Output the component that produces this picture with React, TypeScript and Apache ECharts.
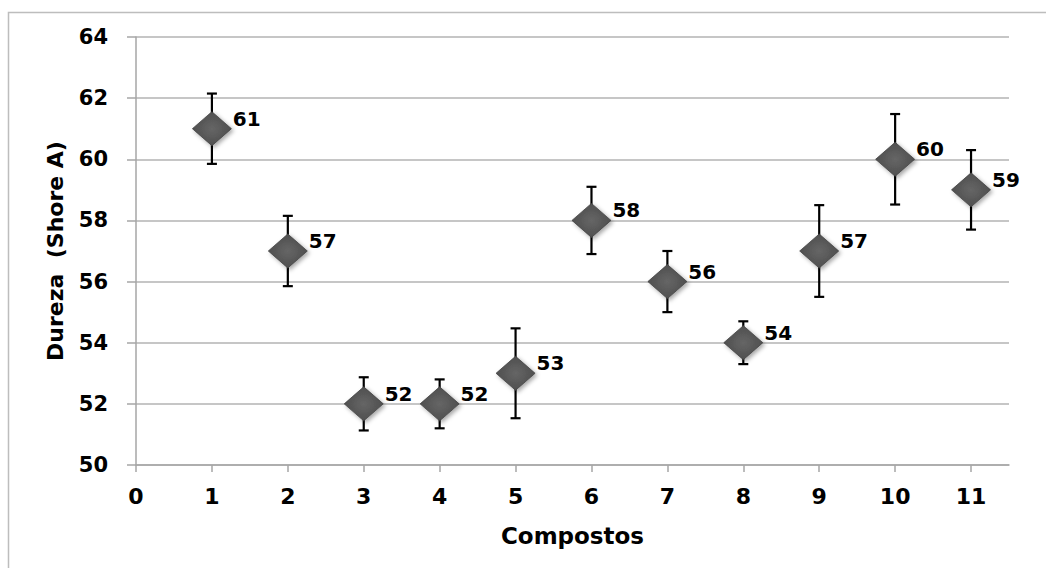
import React, { useEffect, useRef } from "react";
import * as echarts from "echarts";

const compostos = [1, 2, 3, 4, 5, 6, 7, 8, 9, 10, 11];
const dureza = [61, 57, 52, 52, 53, 58, 56, 54, 57, 60, 59];
const erro = [1.15, 1.15, 0.87, 0.8, 1.47, 1.1, 1.0, 0.7, 1.5, 1.48, 1.3];
const xTicks = [0, 1, 2, 3, 4, 5, 6, 7, 8, 9, 10, 11];

const FONT = "'DejaVu Sans', sans-serif";

export default function App() {
  const ref = useRef<HTMLDivElement>(null);
  useEffect(() => {
    if (!ref.current) return;
    const chart = echarts.init(ref.current, undefined, { renderer: "svg" });
    const points = compostos.map((c, i) => [c, dureza[i]]);
    const bars = compostos.map((c, i) => [c, dureza[i] - erro[i], dureza[i] + erro[i]]);
    chart.setOption({
      animation: false,
      backgroundColor: "#ffffff",
      textStyle: { fontFamily: FONT },
      graphic: [
        {
          type: "rect",
          shape: { x: 8.5, y: 12.5, width: 1100, height: 600 },
          style: { fill: "none", stroke: "#bdbdbd", lineWidth: 1.5 },
          silent: true,
          z: -10,
        },
      ],
      grid: { left: 136, top: 37, right: 37, bottom: 103, containLabel: false },
      xAxis: {
        type: "value",
        min: 0,
        max: 11.5,
        interval: 1,
        name: "Compostos",
        nameLocation: "middle",
        nameGap: 59,
        nameTextStyle: { fontFamily: FONT, fontWeight: "bold", fontSize: 23, color: "#000" },
        splitLine: { show: false },
        axisLine: { show: true, lineStyle: { color: "#a6a6a6", width: 1.5 } },
        axisTick: { show: true, length: 7, lineStyle: { color: "#a6a6a6", width: 1.5 }, customValues: xTicks },
        axisLabel: {
          customValues: xTicks,
          margin: 20,
          fontFamily: FONT,
          fontWeight: "bold",
          fontSize: 22,
          color: "#000",
        },
      },
      yAxis: {
        type: "value",
        min: 50,
        max: 64,
        interval: 2,
        name: "Dureza  (Shore A)",
        nameLocation: "middle",
        nameGap: 70,
        nameRotate: 90,
        nameTextStyle: { fontFamily: FONT, fontWeight: "bold", fontSize: 22, color: "#000" },
        axisLine: { show: true, lineStyle: { color: "#a6a6a6", width: 1.5 } },
        axisTick: { show: true, length: 9, inside: false, lineStyle: { color: "#a6a6a6", width: 1.5 } },
        splitLine: { show: true, lineStyle: { color: "#b3b3b3", width: 1.5 } },
        axisLabel: { margin: 28, fontFamily: FONT, fontWeight: "bold", fontSize: 21, color: "#000" },
      },
      series: [
        {
          type: "custom",
          z: 1,
          data: bars,
          renderItem: (params: any, api: any) => {
            const x = api.value(0);
            const lo = api.coord([x, api.value(1)]);
            const hi = api.coord([x, api.value(2)]);
            const cap = 5;
            const st = { stroke: "#000", lineWidth: 2.2 };
            return {
              type: "group",
              children: [
                { type: "line", shape: { x1: lo[0], y1: lo[1], x2: hi[0], y2: hi[1] }, style: st },
                { type: "line", shape: { x1: lo[0] - cap, y1: lo[1], x2: lo[0] + cap, y2: lo[1] }, style: st },
                { type: "line", shape: { x1: hi[0] - cap, y1: hi[1], x2: hi[0] + cap, y2: hi[1] }, style: st },
              ],
            };
          },
        },
        {
          type: "scatter",
          z: 2,
          data: points,
          symbol: "diamond",
          symbolSize: [39, 34],
          itemStyle: {
            opacity: 1,
            color: {
              type: "radial",
              x: 0.5,
              y: 0.5,
              r: 0.6,
              colorStops: [
                { offset: 0, color: "#666666" },
                { offset: 1, color: "#4a4a4a" },
              ],
            },
            borderColor: "#444444",
            borderWidth: 0.8,
            shadowBlur: 4,
            shadowOffsetX: 2,
            shadowOffsetY: 2,
            shadowColor: "rgba(0,0,0,0.35)",
          },
          label: {
            show: true,
            position: "right",
            distance: 1,
            offset: [0, -10],
            formatter: (p: any) => String(p.value[1]),
            fontFamily: FONT,
            fontWeight: "bold",
            fontSize: 20,
            color: "#000",
          },
        },
      ],
    });
    return () => chart.dispose();
  }, []);
  return (
    <div
      ref={ref}
      style={{ position: "absolute", left: 0, top: 0, width: 1046, height: 568 }}
    />
  );
}
